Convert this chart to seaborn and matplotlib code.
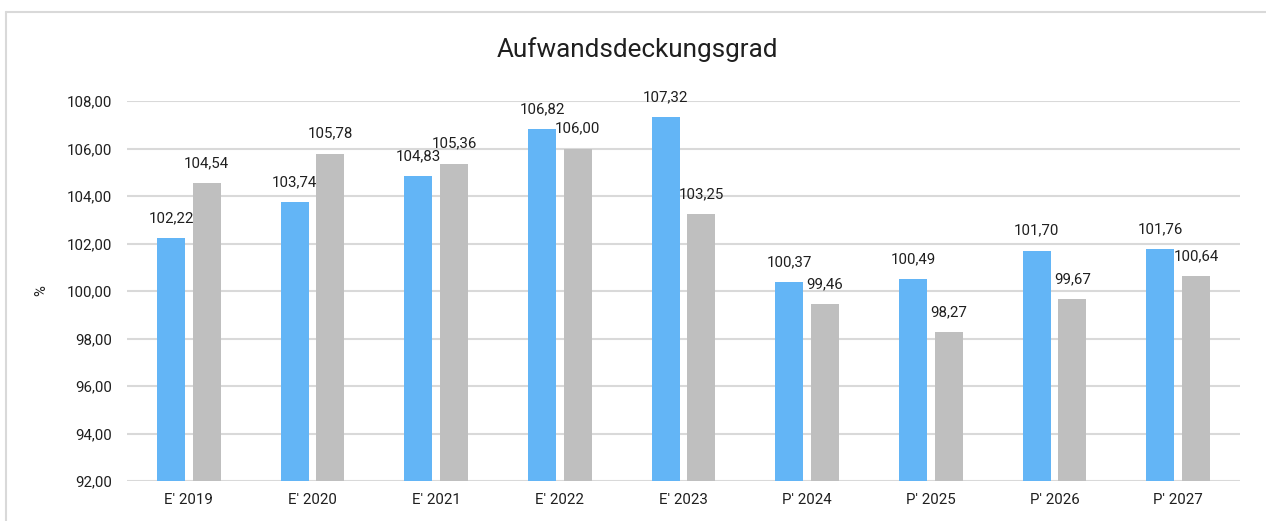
import matplotlib
matplotlib.use("Agg")
import matplotlib.pyplot as plt
from matplotlib.lines import Line2D
from matplotlib.ticker import FuncFormatter
import seaborn as sns
import pandas as pd

# Data
categories = ["E' 2019", "E' 2020", "E' 2021", "E' 2022", "E' 2023",
              "P' 2024", "P' 2025", "P' 2026", "P' 2027"]
series_names = ["Reihe 1", "Reihe 2"]
values_a = [102.22, 103.74, 104.83, 106.82, 107.32, 100.37, 100.49, 101.70, 101.76]
values_b = [104.54, 105.78, 105.36, 106.00, 103.25, 99.46, 98.27, 99.67, 100.64]
y_ticks = [92, 94, 96, 98, 100, 102, 104, 106, 108]

df = pd.DataFrame({
    "Kategorie": categories * 2,
    "Reihe": [series_names[0]] * len(categories) + [series_names[1]] * len(categories),
    "Wert": values_a + values_b,
})

def de_fmt(v):
    return f"{v:.2f}".replace(".", ",")

sns.set_theme(style="white")
plt.rcParams["font.family"] = ["Roboto", "DejaVu Sans"]
text_color = "#1f1f1f"
grid_color = "#d9d9d9"

fig = plt.figure(figsize=(12.66, 5.21), dpi=100)
fig.patch.set_facecolor("white")
ax = fig.add_axes([127 / 1266, 40 / 521, 1113 / 1266, 380 / 521])

sns.barplot(data=df, x="Kategorie", y="Wert", hue="Reihe",
            palette=["#63b5f6", "#bfbfbf"], width=0.576, gap=0.22,
            saturation=1, legend=False, ax=ax, errorbar=None, linewidth=0)

ax.set_ylim(y_ticks[0], y_ticks[-1])
ax.set_yticks(y_ticks)
ax.yaxis.set_major_formatter(FuncFormatter(lambda v, p: de_fmt(v)))
ax.grid(axis="y", color=grid_color, linewidth=1.5, zorder=0)
ax.set_axisbelow(True)
for s in ax.spines.values():
    s.set_visible(False)
ax.tick_params(axis="both", length=0, labelsize=10.8, colors=text_color)
ax.tick_params(axis="y", pad=10.8)
ax.tick_params(axis="x", pad=9)
ax.set_xlabel("")
ax.set_ylabel("%", fontsize=10.8, color=text_color)
ax.yaxis.set_label_coords(-0.071, 0.5)

# Value labels above each bar
for container, vals in zip(ax.containers, [values_a, values_b]):
    for bar, v in zip(container, vals):
        ax.annotate(de_fmt(v), (bar.get_x() + bar.get_width() / 2, v),
                    xytext=(0, 16), textcoords="offset pixels",
                    ha="center", va="baseline", fontsize=10.8,
                    color=text_color, annotation_clip=False)

fig.text(637 / 1266, 1 - 50 / 521, "Aufwandsdeckungsgrad", ha="center",
         va="center", fontsize=18.8, color=text_color)

# Chart frame (left and top edges)
fig.add_artist(Line2D([6 / 1266, 6 / 1266], [0, 1 - 12 / 521],
                      transform=fig.transFigure, color=grid_color, linewidth=1.5))
fig.add_artist(Line2D([6 / 1266, 1], [1 - 12 / 521, 1 - 12 / 521],
                      transform=fig.transFigure, color=grid_color, linewidth=1.5))

fig.savefig("out.png", dpi=100)
